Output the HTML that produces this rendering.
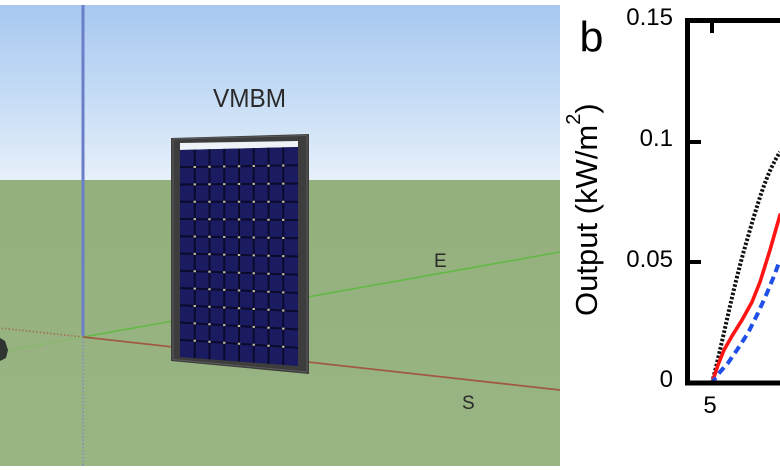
<!DOCTYPE html>
<html>
<head>
<meta charset="utf-8">
<style>
  html, body { margin: 0; padding: 0; background: #ffffff; }
  body { width: 780px; height: 470px; overflow: hidden; }
  svg { display: block; }
  text { font-family: "Liberation Sans", Arial, sans-serif; }
</style>
</head>
<body>
<svg width="780" height="470" viewBox="0 0 780 470" xmlns="http://www.w3.org/2000/svg">
  <defs>
    <linearGradient id="sky" x1="0" y1="0" x2="0" y2="1">
      <stop offset="0" stop-color="#a7c8f1"/>
      <stop offset="0.5" stop-color="#c4dbf5"/>
      <stop offset="1" stop-color="#e7f0fa"/>
    </linearGradient>
    <linearGradient id="ground" x1="0" y1="0" x2="0" y2="1">
      <stop offset="0" stop-color="#94b07d"/>
      <stop offset="1" stop-color="#9ab584"/>
    </linearGradient>
    <clipPath id="cellclip">
      <polygon points="180,150 298,147 298,366 180,357"/>
    </clipPath>
  </defs>

  <rect x="0" y="0" width="780" height="470" fill="#ffffff"/>

  <!-- ===== Panel a: 3D scene ===== -->
  <rect x="0" y="5" width="560" height="175" fill="url(#sky)"/>
  <rect x="0" y="180" width="560" height="286" fill="url(#ground)"/>

  <!-- axes -->
  <line x1="83" y1="5" x2="83" y2="337" stroke="#6b7ec8" stroke-width="3"/>
  <line x1="83" y1="338" x2="83" y2="466" stroke="#8595b5" stroke-width="2" stroke-dasharray="1.5 2"/>
  <line x1="83" y1="337" x2="560" y2="252" stroke="#62b944" stroke-width="1.6"/>
  <line x1="83" y1="337" x2="560" y2="390" stroke="#a05a44" stroke-width="1.8"/>
  <line x1="83" y1="337" x2="0" y2="328" stroke="#a0704f" stroke-width="1.6" stroke-dasharray="1.5 2"/>
  <line x1="83" y1="337" x2="6" y2="351" stroke="#72c050" stroke-width="1.3" stroke-dasharray="1.5 2"/>

  <!-- small dark object at left -->
  <polygon points="0,338 5,341 8,350 6,358 0,361" fill="#2f3430"/>

  <!-- solar module -->
  <polygon points="171,138 309,134 309,374 171,361" fill="#3c3d3c"/>
  <polygon points="173,139 307,135.5 307,372 173,359.5" fill="none" stroke="#5a5b5a" stroke-width="1"/>
  <polygon points="180,143 298,141 298,147 180,150" fill="#eef3f8"/>
  <polygon points="180,150 298,147 298,366 180,357" fill="#1b1b62"/>
  <g clip-path="url(#cellclip)" stroke="#0a0a2c" stroke-width="2">
    <line x1="180" y1="167.25" x2="298" y2="165.25"/>
    <line x1="180" y1="184.5" x2="298" y2="183.5"/>
    <line x1="180" y1="201.75" x2="298" y2="201.75"/>
    <line x1="180" y1="219" x2="298" y2="220"/>
    <line x1="180" y1="236.25" x2="298" y2="238.25"/>
    <line x1="180" y1="253.5" x2="298" y2="256.5"/>
    <line x1="180" y1="270.75" x2="298" y2="274.75"/>
    <line x1="180" y1="288" x2="298" y2="293"/>
    <line x1="180" y1="305.25" x2="298" y2="311.25"/>
    <line x1="180" y1="322.5" x2="298" y2="329.5"/>
    <line x1="180" y1="339.75" x2="298" y2="347.75"/>
    <line x1="194.75" y1="140" x2="194.75" y2="370"/>
    <line x1="209.5" y1="140" x2="209.5" y2="370"/>
    <line x1="224.25" y1="140" x2="224.25" y2="370"/>
    <line x1="239" y1="140" x2="239" y2="370"/>
    <line x1="253.75" y1="140" x2="253.75" y2="370"/>
    <line x1="268.5" y1="140" x2="268.5" y2="370"/>
    <line x1="283.25" y1="140" x2="283.25" y2="370"/>
  </g>
  <g stroke="#c2bf9e" stroke-width="2.4">
    <line x1="194.75" y1="166" x2="194.75" y2="341.75" stroke-dasharray="2 15.375"/>
    <line x1="209.5" y1="165.75" x2="209.5" y2="342.75" stroke-dasharray="2 15.5"/>
    <line x1="224.25" y1="165.5" x2="224.25" y2="343.75" stroke-dasharray="2 15.625"/>
    <line x1="239" y1="165.25" x2="239" y2="344.75" stroke-dasharray="2 15.75"/>
    <line x1="253.75" y1="165" x2="253.75" y2="345.75" stroke-dasharray="2 15.875"/>
    <line x1="268.5" y1="164.75" x2="268.5" y2="346.75" stroke-dasharray="2 16"/>
    <line x1="283.25" y1="164.5" x2="283.25" y2="347.75" stroke-dasharray="2 16.125"/>
  </g>

  <!-- labels -->
  <text x="213" y="107" font-size="26" fill="#2a2a2a" textLength="73" lengthAdjust="spacingAndGlyphs">VMBM</text>
  <text x="434" y="267" font-size="19" fill="#2a2a2a">E</text>
  <text x="462" y="409" font-size="19" fill="#2a2a2a">S</text>

  <!-- ===== Panel b: chart ===== -->
  <text x="579.5" y="51.5" font-size="43" fill="#000">b</text>

  <text transform="translate(597,316) rotate(-90)" font-size="31" fill="#000">Output (kW/m<tspan font-size="20" dy="-17">2</tspan><tspan dy="17">)</tspan></text>

  <!-- tick labels -->
  <g font-size="24" fill="#000" text-anchor="end">
    <text x="673" y="25">0.15</text>
    <text x="673" y="146">0.1</text>
    <text x="673" y="267">0.05</text>
    <text x="673" y="387">0</text>
  </g>
  <text x="710" y="413" font-size="24" fill="#000" text-anchor="middle">5</text>

  <!-- curves -->
  <path d="M712,383 C722,345 732,292 745,247 S766,174 780,152" fill="none" stroke="#111" stroke-width="4" stroke-dasharray="2.5 1.8"/>
  <polyline points="712,383 718,365 724,350 732,336 742,320 752,302 760,282 770,250 780,215" fill="none" stroke="#ff1414" stroke-width="3.6" stroke-linejoin="round" stroke-linecap="round"/>
  <polyline points="711,384 720,372 728,363 737,350 748,333 758,313 767,293 774,276 780,260" fill="none" stroke="#1f4fe8" stroke-width="4" stroke-dasharray="8 5" stroke-linejoin="round"/>

  <!-- frame -->
  <line x1="687.5" y1="18" x2="687.5" y2="385.5" stroke="#000" stroke-width="5"/>
  <line x1="685" y1="20.5" x2="780" y2="20.5" stroke="#000" stroke-width="5"/>
  <line x1="685" y1="383" x2="780" y2="383" stroke="#000" stroke-width="5"/>
  <!-- ticks -->
  <line x1="690" y1="142" x2="701" y2="142" stroke="#000" stroke-width="4"/>
  <line x1="690" y1="262" x2="701" y2="262" stroke="#000" stroke-width="4"/>
  <line x1="712" y1="22" x2="712" y2="33" stroke="#000" stroke-width="4"/>
</svg>
</body>
</html>
